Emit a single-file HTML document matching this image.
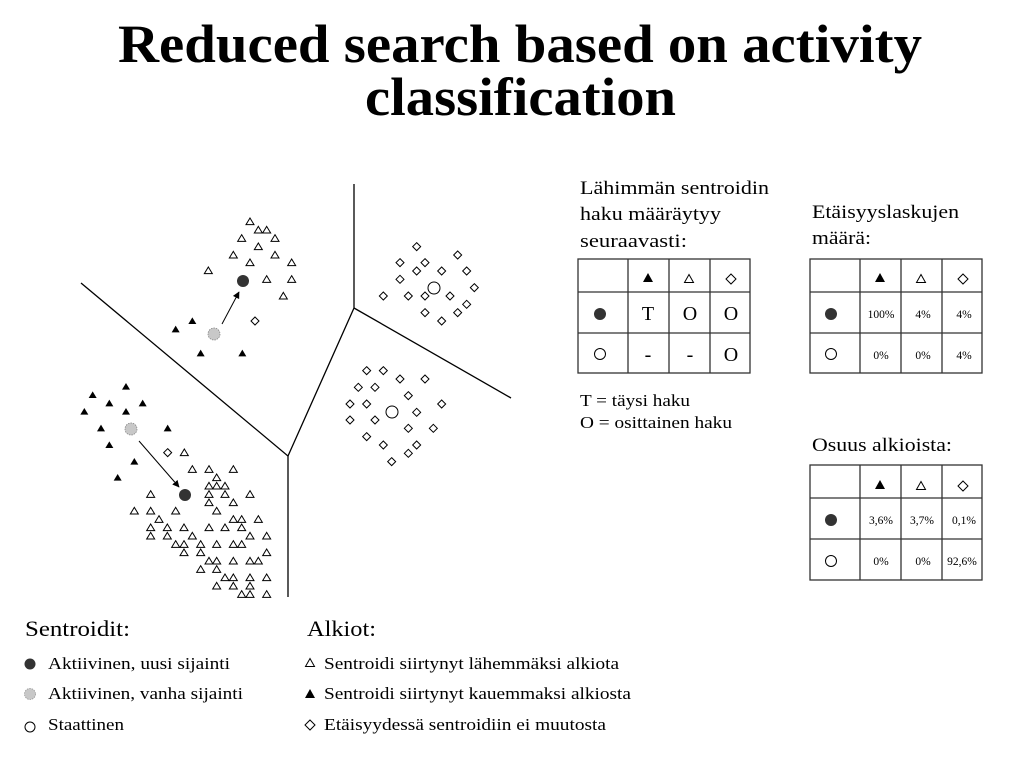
<!DOCTYPE html>
<html><head><meta charset="utf-8"><style>
html,body{margin:0;padding:0;background:#fff;}
svg{display:block;font-family:"Liberation Serif",serif;}
</style></head><body>
<svg width="1024" height="768" viewBox="0 0 1024 768" xmlns="http://www.w3.org/2000/svg">
<defs>
<path id="t" d="M0,-11 L12,9 L-12,9 Z" fill="#fff" stroke="#000" stroke-width="3"/>
<path id="f" d="M0,-11 L12,9 L-12,9 Z" fill="#000"/>
<path id="d" d="M0,-12 L12,0 L0,12 L-12,0 Z" fill="#fff" stroke="#000" stroke-width="3"/>
<path id="ts" d="M0,-4.5 L4.5,3.5 L-4.5,3.5 Z" fill="#fff" stroke="#000" stroke-width="1"/>
<path id="fs" d="M0,-5 L5,4 L-5,4 Z" fill="#000"/>
<path id="ds" d="M0,-5 L5,0 L0,5 L-5,0 Z" fill="#fff" stroke="#000" stroke-width="1"/>
<marker id="ah" viewBox="0 0 10 10" refX="9" refY="5" markerWidth="7" markerHeight="7" orient="auto"><path d="M0,0 L10,5 L0,10 Z" fill="#000"/></marker>
</defs>
<text x="118" y="62" font-size="54" font-weight="bold" textLength="804" lengthAdjust="spacingAndGlyphs">Reduced search based on activity</text>
<text x="365" y="115" font-size="54" font-weight="bold" textLength="311" lengthAdjust="spacingAndGlyphs">classification</text>

<g stroke="#000" stroke-width="1.3" fill="none">
<path d="M81,283 L288,456 L288,597"/>
<path d="M288,456 L354,308 L354,184"/>
<path d="M354,308 L511,398"/>
</g>

<g transform="translate(70,180) scale(0.33333)">
<use href="#t" x="540" y="125"/><use href="#t" x="565" y="150"/><use href="#t" x="590" y="150"/><use href="#t" x="515" y="175"/><use href="#t" x="615" y="175"/><use href="#t" x="565" y="200"/><use href="#t" x="490" y="225"/><use href="#t" x="615" y="225"/><use href="#t" x="540" y="248"/><use href="#t" x="665" y="248"/><use href="#t" x="415" y="272"/><use href="#t" x="590" y="298"/><use href="#t" x="665" y="298"/><use href="#t" x="640" y="348"/>
<use href="#f" x="367" y="423"/><use href="#f" x="317" y="448"/><use href="#f" x="392" y="520"/><use href="#f" x="517" y="520"/>
<use href="#d" x="555" y="423"/>
<use href="#f" x="68" y="645"/><use href="#f" x="168" y="620"/><use href="#f" x="118" y="670"/><use href="#f" x="218" y="670"/><use href="#f" x="168" y="695"/><use href="#f" x="43" y="695"/><use href="#f" x="93" y="745"/><use href="#f" x="293" y="745"/><use href="#f" x="118" y="795"/><use href="#f" x="193" y="845"/><use href="#f" x="143" y="893"/>
<use href="#d" x="293" y="818"/><use href="#t" x="343" y="818"/>
<use href="#t" x="367" y="868"/><use href="#t" x="417" y="868"/><use href="#t" x="490" y="868"/><use href="#t" x="440" y="893"/><use href="#t" x="417" y="918"/><use href="#t" x="440" y="918"/><use href="#t" x="465" y="918"/><use href="#t" x="242" y="943"/><use href="#t" x="417" y="943"/><use href="#t" x="465" y="943"/><use href="#t" x="540" y="943"/><use href="#t" x="417" y="968"/><use href="#t" x="490" y="968"/><use href="#t" x="193" y="993"/><use href="#t" x="242" y="993"/><use href="#t" x="317" y="993"/><use href="#t" x="440" y="993"/><use href="#t" x="267" y="1018"/><use href="#t" x="490" y="1018"/><use href="#t" x="515" y="1018"/><use href="#t" x="565" y="1018"/><use href="#t" x="242" y="1043"/><use href="#t" x="292" y="1043"/><use href="#t" x="342" y="1043"/><use href="#t" x="417" y="1043"/><use href="#t" x="465" y="1043"/><use href="#t" x="515" y="1043"/><use href="#t" x="242" y="1068"/><use href="#t" x="292" y="1068"/><use href="#t" x="367" y="1068"/><use href="#t" x="540" y="1068"/><use href="#t" x="590" y="1068"/><use href="#t" x="317" y="1093"/><use href="#t" x="342" y="1093"/><use href="#t" x="392" y="1093"/><use href="#t" x="440" y="1093"/><use href="#t" x="490" y="1093"/><use href="#t" x="515" y="1093"/><use href="#t" x="342" y="1118"/><use href="#t" x="392" y="1118"/><use href="#t" x="590" y="1118"/><use href="#t" x="417" y="1143"/><use href="#t" x="440" y="1143"/><use href="#t" x="490" y="1143"/><use href="#t" x="540" y="1143"/><use href="#t" x="565" y="1143"/><use href="#t" x="392" y="1168"/><use href="#t" x="440" y="1168"/><use href="#t" x="465" y="1193"/><use href="#t" x="490" y="1193"/><use href="#t" x="540" y="1193"/><use href="#t" x="590" y="1193"/><use href="#t" x="440" y="1218"/><use href="#t" x="490" y="1218"/><use href="#t" x="540" y="1218"/><use href="#t" x="515" y="1243"/><use href="#t" x="540" y="1243"/><use href="#t" x="590" y="1243"/>
<use href="#d" x="1040" y="200"/><use href="#d" x="1163" y="225"/><use href="#d" x="990" y="248"/><use href="#d" x="1065" y="248"/><use href="#d" x="1040" y="273"/><use href="#d" x="1115" y="273"/><use href="#d" x="1190" y="273"/><use href="#d" x="990" y="298"/><use href="#d" x="1213" y="323"/><use href="#d" x="940" y="348"/><use href="#d" x="1015" y="348"/><use href="#d" x="1065" y="348"/><use href="#d" x="1140" y="348"/><use href="#d" x="1190" y="373"/><use href="#d" x="1065" y="398"/><use href="#d" x="1163" y="398"/><use href="#d" x="1115" y="423"/>
<use href="#d" x="890" y="572"/><use href="#d" x="940" y="572"/><use href="#d" x="990" y="597"/><use href="#d" x="1065" y="597"/><use href="#d" x="865" y="622"/><use href="#d" x="915" y="622"/><use href="#d" x="1015" y="647"/><use href="#d" x="840" y="672"/><use href="#d" x="890" y="672"/><use href="#d" x="1040" y="697"/><use href="#d" x="1115" y="672"/><use href="#d" x="840" y="720"/><use href="#d" x="915" y="720"/><use href="#d" x="1015" y="745"/><use href="#d" x="1090" y="745"/><use href="#d" x="890" y="770"/><use href="#d" x="940" y="795"/><use href="#d" x="1040" y="795"/><use href="#d" x="1015" y="820"/><use href="#d" x="965" y="845"/>
</g>
<circle cx="434" cy="288" r="6" fill="#fff" stroke="#000" stroke-width="1"/>
<circle cx="392" cy="412" r="6" fill="#fff" stroke="#000" stroke-width="1"/>
<circle cx="243" cy="281" r="6" fill="#333"/>
<circle cx="185" cy="495" r="6" fill="#333"/>
<circle cx="214" cy="334" r="6" fill="#c8c8c8" stroke="#888" stroke-width="0.8" stroke-dasharray="1.5 1"/>
<circle cx="131" cy="429" r="6" fill="#c8c8c8" stroke="#888" stroke-width="0.8" stroke-dasharray="1.5 1"/>
<line x1="222" y1="324" x2="239" y2="292" stroke="#000" stroke-width="1" marker-end="url(#ah)"/>
<line x1="139" y1="441" x2="179" y2="487" stroke="#000" stroke-width="1" marker-end="url(#ah)"/>

<g font-size="19" lengthAdjust="spacingAndGlyphs">
<text x="580" y="194" textLength="189" lengthAdjust="spacingAndGlyphs">Lähimmän sentroidin</text>
<text x="580" y="220" textLength="141" lengthAdjust="spacingAndGlyphs">haku määräytyy</text>
<text x="580" y="247" textLength="107" lengthAdjust="spacingAndGlyphs">seuraavasti:</text>
<text x="580" y="406" font-size="17" textLength="110" lengthAdjust="spacingAndGlyphs">T = täysi haku</text>
<text x="580" y="428" font-size="17" textLength="152" lengthAdjust="spacingAndGlyphs">O = osittainen haku</text>
<text x="812" y="218" textLength="147" lengthAdjust="spacingAndGlyphs">Etäisyyslaskujen</text>
<text x="812" y="244" textLength="59" lengthAdjust="spacingAndGlyphs">määrä:</text>
<text x="812" y="451" textLength="140" lengthAdjust="spacingAndGlyphs">Osuus alkioista:</text>
</g>
<g stroke="#333" stroke-width="1.3" fill="none">
<rect x="578" y="259" width="172" height="114"/>
<path d="M628,259V373M669,259V373M710,259V373M578,292H750M578,333H750"/>
<rect x="810" y="259" width="172" height="114"/>
<path d="M860,259V373M901,259V373M942,259V373M810,292H982M810,333H982"/>
<rect x="810" y="465" width="172" height="115"/>
<path d="M860,465V580M901,465V580M942,465V580M810,498H982M810,539H982"/>
</g>
<g>
<use href="#fs" x="648" y="278"/><use href="#ts" x="689" y="279"/><use href="#ds" x="731" y="279"/>
<circle cx="600" cy="314" r="6" fill="#333"/><circle cx="600" cy="354" r="5.5" fill="#fff" stroke="#000"/>
<use href="#fs" x="880" y="278"/><use href="#ts" x="921" y="279"/><use href="#ds" x="963" y="279"/>
<circle cx="831" cy="314" r="6" fill="#333"/><circle cx="831" cy="354" r="5.5" fill="#fff" stroke="#000"/>
<use href="#fs" x="880" y="485"/><use href="#ts" x="921" y="486"/><use href="#ds" x="963" y="486"/>
<circle cx="831" cy="520" r="6" fill="#333"/><circle cx="831" cy="561" r="5.5" fill="#fff" stroke="#000"/>
</g>
<g font-size="20" text-anchor="middle">
<text x="648" y="320">T</text><text x="690" y="320">O</text><text x="731" y="320">O</text>
<text x="648" y="361">-</text><text x="690" y="361">-</text><text x="731" y="361">O</text>
</g>
<g font-size="11.5" text-anchor="middle">
<text x="881" y="318">100%</text><text x="923" y="318">4%</text><text x="964" y="318">4%</text>
<text x="881" y="359">0%</text><text x="923" y="359">0%</text><text x="964" y="359">4%</text>
<text x="881" y="524">3,6%</text><text x="922" y="524">3,7%</text><text x="964" y="524">0,1%</text>
<text x="881" y="565">0%</text><text x="923" y="565">0%</text><text x="962" y="565">92,6%</text>
</g>

<text x="25" y="636" font-size="22" textLength="105" lengthAdjust="spacingAndGlyphs">Sentroidit:</text>
<text x="307" y="636" font-size="22" textLength="69" lengthAdjust="spacingAndGlyphs">Alkiot:</text>
<g font-size="17">
<circle cx="30" cy="664" r="5.5" fill="#333"/>
<text x="48" y="669" textLength="182" lengthAdjust="spacingAndGlyphs">Aktiivinen, uusi sijainti</text>
<circle cx="30" cy="694" r="5.5" fill="#c8c8c8" stroke="#999" stroke-width="0.8" stroke-dasharray="1.5 1"/>
<text x="48" y="699" textLength="195" lengthAdjust="spacingAndGlyphs">Aktiivinen, vanha sijainti</text>
<circle cx="30" cy="727" r="5" fill="#fff" stroke="#000"/>
<text x="48" y="730" textLength="76" lengthAdjust="spacingAndGlyphs">Staattinen</text>
<use href="#ts" x="310" y="663"/>
<text x="324" y="669" textLength="295" lengthAdjust="spacingAndGlyphs">Sentroidi siirtynyt lähemmäksi alkiota</text>
<use href="#fs" x="310" y="694"/>
<text x="324" y="699" textLength="307" lengthAdjust="spacingAndGlyphs">Sentroidi siirtynyt kauemmaksi alkiosta</text>
<use href="#ds" x="310" y="725"/>
<text x="324" y="730" textLength="282" lengthAdjust="spacingAndGlyphs">Etäisyydessä sentroidiin ei muutosta</text>
</g>
</svg>
</body></html>
